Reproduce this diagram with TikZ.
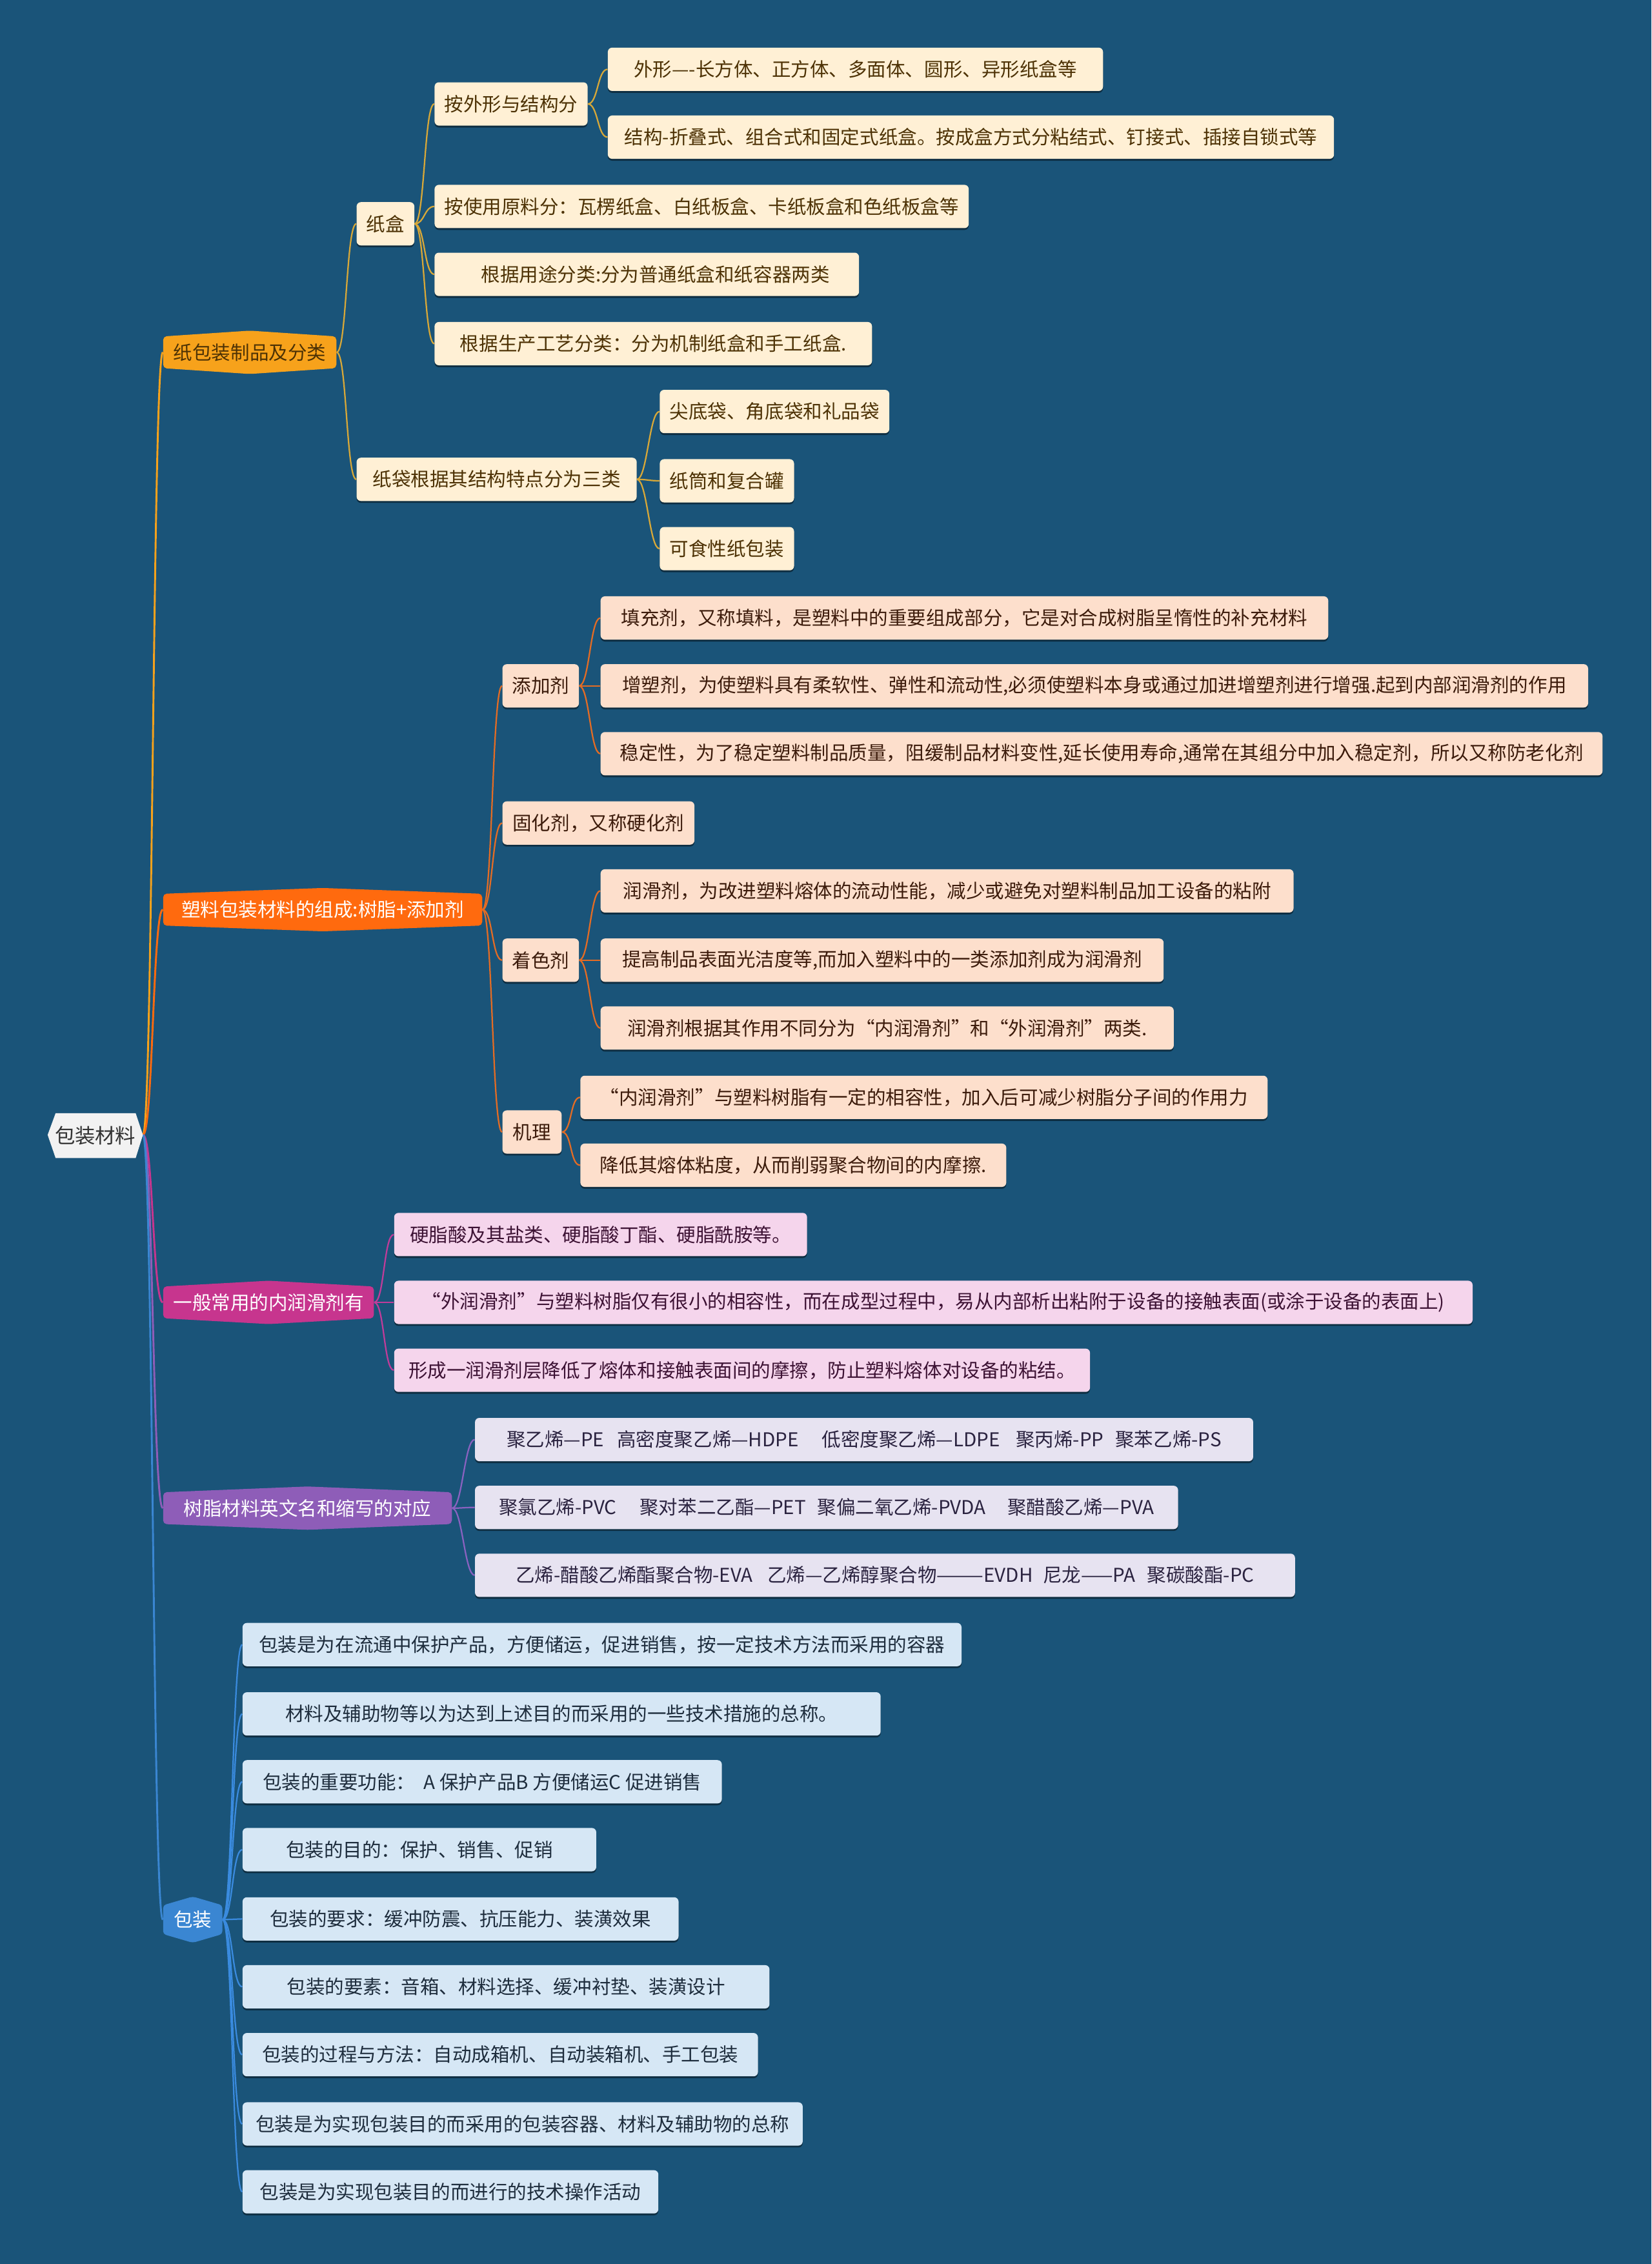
\documentclass[tikz,border=0pt]{standalone}
\usepackage{fontspec}
\setmainfont{Noto Sans CJK SC}
\usetikzlibrary{shadows}
\definecolor{bgc}{RGB}{26,84,121}
\definecolor{rootc}{RGB}{242,242,242}
\definecolor{roott}{RGB}{51,51,51}
\definecolor{L1a}{RGB}{247,162,27}
\definecolor{L1b}{RGB}{255,106,14}
\definecolor{L1c}{RGB}{199,53,142}
\definecolor{L1d}{RGB}{142,93,184}
\definecolor{L1e}{RGB}{58,134,210}
\definecolor{f1}{RGB}{255,240,213}
\definecolor{t1}{RGB}{77,50,5}
\definecolor{f2}{RGB}{253,223,204}
\definecolor{t2}{RGB}{60,27,11}
\definecolor{f3}{RGB}{245,213,236}
\definecolor{t3}{RGB}{61,18,52}
\definecolor{f4}{RGB}{231,227,241}
\definecolor{t4}{RGB}{43,35,64}
\definecolor{f5}{RGB}{214,231,245}
\definecolor{t5}{RGB}{30,45,61}
\definecolor{k1}{RGB}{216,168,56}
\definecolor{k2}{RGB}{228,108,36}
\definecolor{k3}{RGB}{192,60,154}
\definecolor{k4}{RGB}{138,98,192}
\definecolor{k5}{RGB}{58,139,223}
\pgfdeclarelayer{bgl}
\pgfdeclarelayer{edges}
\pgfsetlayers{bgl,edges,main}
\newcommand\bx[6]{\node[#5, minimum width={#3pt-#2pt}] (#1) at ({(#2+#3)/2},#4) {#6};}
\newcommand\lone[7]{%
  \fill[#5, rounded corners=2.5pt] (#2,{#4-11}) -- ({(#2+#3)/2},{#4-15}) -- (#3,{#4-11}) -- (#3,{#4+11}) -- ({(#2+#3)/2},{#4+15}) -- (#2,{#4+11}) -- cycle;
  \node[text=#6, minimum width={#3pt-#2pt}, minimum height=22pt] (#1) at ({(#2+#3)/2},#4) {#7};}
\newcommand\cn[3]{\draw[#1] (#2.east) .. controls +(7,0) and +(-7,0) .. (#3.west);}
\begin{document}
\begin{tikzpicture}[x=1pt,y=-1pt,
  every node/.style={inner sep=0pt, font=\fontsize{13.2}{15}\selectfont},
  box/.style={rectangle, rounded corners=3pt, minimum height=30pt,
    drop shadow={shadow xshift=0pt, shadow yshift=-1.3pt, opacity=0.45, fill=black}},
  b1/.style={box, fill=f1, text=t1},
  b2/.style={box, fill=f2, text=t2},
  b3/.style={box, fill=f3, text=t3},
  b4/.style={box, fill=f4, text=t4},
  b5/.style={box, fill=f5, text=t5},
  c1/.style={draw=k1, line width=1pt},
  c2/.style={draw=k2, line width=1pt},
  c3/.style={draw=k3, line width=1pt},
  c4/.style={draw=k4, line width=1pt},
  c5/.style={draw=k5, line width=1pt}]
\begin{pgfonlayer}{bgl}
\fill[bgc] (0,0) rectangle (1144,1568);
\end{pgfonlayer}
\useasboundingbox (0,0) rectangle (1144,1568);

% root
\fill[rootc] (33,786) -- (38.5,771) -- (94,771) -- (99,786) -- (94,802) -- (38.5,802) -- cycle;
\node[text=roott, font=\fontsize{14}{16}\selectfont] (root) at (66,786.5) {包装材料};
\coordinate (rootR) at (99,786);

% level 1
\lone{la}{113}{233}{244}{L1a}{t1}{纸包装制品及分类}
\lone{lb}{113}{334}{630}{L1b}{white}{塑料包装材料的组成:树脂+添加剂}
\lone{lc}{113}{259}{902}{L1c}{white}{一般常用的内润滑剂有}
\lone{ld}{113}{313}{1044.5}{L1d}{white}{树脂材料英文名和缩写的对应}
\fill[L1e, rounded corners=2pt] (133.5,1313.5) -- (154,1319.5) -- (154,1339.5) -- (133.5,1345.5) -- (113,1339.5) -- (113,1319.5) -- cycle;
\node[text=white, minimum width=41pt, minimum height=20pt] (le) at (133.5,1329.5) {包装};

% branch 1
\bx{zh}{247}{287}{155}{b1}{纸盒}
\bx{zh1}{301}{407}{72}{b1}{按外形与结构分}
\bx{zh11}{421}{764}{48}{b1}{外形—-长方体、正方体、多面体、圆形、异形纸盒等}
\bx{zh12}{421}{924}{95}{b1}{结构-折叠式、组合式和固定式纸盒。按成盒方式分粘结式、钉接式、插接自锁式等}
\bx{zh2}{301}{671}{143}{b1}{按使用原料分：瓦楞纸盒、白纸板盒、卡纸板盒和色纸板盒等}
\bx{zh3}{301}{595}{190}{b1}{\hspace*{12pt}根据用途分类:分为普通纸盒和纸容器两类}
\bx{zh4}{301}{604}{238}{b1}{根据生产工艺分类：分为机制纸盒和手工纸盒.}
\bx{zd}{247}{441}{332}{b1}{纸袋根据其结构特点分为三类}
\bx{zd1}{457}{616}{285}{b1}{尖底袋、角底袋和礼品袋}
\bx{zd2}{457}{550}{333}{b1}{纸筒和复合罐}
\bx{zd3}{457}{550}{380}{b1}{可食性纸包装}

% branch 2
\bx{tj}{348}{401}{475}{b2}{添加剂}
\bx{tj1}{416}{920}{428}{b2}{填充剂，又称填料，是塑料中的重要组成部分，它是对合成树脂呈惰性的补充材料}
\bx{tj2}{416}{1100}{475}{b2}{增塑剂，为使塑料具有柔软性、弹性和流动性,必须使塑料本身或通过加进增塑剂进行增强.起到内部润滑剂的作用}
\bx{tj3}{416}{1110}{522}{b2}{稳定性，为了稳定塑料制品质量，阻缓制品材料变性,延长使用寿命,通常在其组分中加入稳定剂，所以又称防老化剂}
\bx{gh}{348}{481}{570}{b2}{固化剂，又称硬化剂}
\bx{zs}{348}{401}{665}{b2}{着色剂}
\bx{zs1}{416}{896}{617}{b2}{润滑剂，为改进塑料熔体的流动性能，减少或避免对塑料制品加工设备的粘附}
\bx{zs2}{416}{806}{665}{b2}{提高制品表面光洁度等,而加入塑料中的一类添加剂成为润滑剂}
\bx{zs3}{416}{813}{712}{b2}{润滑剂根据其作用不同分为“内润滑剂”和“外润滑剂”两类.}
\bx{jl}{348}{389}{784}{b2}{机理}
\bx{jl1}{402}{878}{760}{b2}{“内润滑剂”与塑料树脂有一定的相容性，加入后可减少树脂分子间的作用力}
\bx{jl2}{402}{697}{807}{b2}{降低其熔体粘度，从而削弱聚合物间的内摩擦.}

% branch 3
\bx{nr1}{273}{559}{855}{b3}{硬脂酸及其盐类、硬脂酸丁酯、硬脂酰胺等。}
\bx{nr2}{273}{1020}{902}{b3}{“外润滑剂”与塑料树脂仅有很小的相容性，而在成型过程中，易从内部析出粘附于设备的接触表面(或涂于设备的表面上)}
\bx{nr3}{273}{755}{949}{b3}{形成一润滑剂层降低了熔体和接触表面间的摩擦，防止塑料熔体对设备的粘结。}

% branch 4
\bx{sz1}{329}{868}{997}{b4}{聚乙烯—PE\hspace*{9pt}高密度聚乙烯—HDPE\hspace*{16pt}低密度聚乙烯—LDPE\hspace*{11pt}聚丙烯-PP\hspace*{8pt}聚苯乙烯-PS}
\bx{sz2}{329}{816}{1044}{b4}{聚氯乙烯-PVC\hspace*{16pt}聚对苯二乙酯—PET\hspace*{8pt}聚偏二氧乙烯-PVDA\hspace*{15pt}聚醋酸乙烯—PVA}
\bx{sz3}{329}{897}{1091}{b4}{乙烯-醋酸乙烯酯聚合物-EVA\hspace*{10pt}乙烯—乙烯醇聚合物———EVDH\hspace*{7pt}尼龙——PA\hspace*{8pt}聚碳酸酯-PC}

% branch 5
\bx{bz1}{168}{666}{1139}{b5}{包装是为在流通中保护产品，方便储运，促进销售，按一定技术方法而采用的容器}
\bx{bz2}{168}{610}{1187}{b5}{材料及辅助物等以为达到上述目的而采用的一些技术措施的总称。}
\bx{bz3}{168}{500}{1234}{b5}{包装的重要功能：\hspace*{6pt}A 保护产品B 方便储运C 促进销售}
\bx{bz4}{168}{413}{1281}{b5}{包装的目的：保护、销售、促销}
\bx{bz5}{168}{470}{1329}{b5}{包装的要求：缓冲防震、抗压能力、装潢效果}
\bx{bz6}{168}{533}{1376}{b5}{包装的要素：音箱、材料选择、缓冲衬垫、装潢设计}
\bx{bz7}{168}{525}{1423}{b5}{包装的过程与方法：自动成箱机、自动装箱机、手工包装}
\bx{bz8}{168}{556}{1471}{b5}{包装是为实现包装目的而采用的包装容器、材料及辅助物的总称}
\bx{bz9}{168}{456}{1518}{b5}{包装是为实现包装目的而进行的技术操作活动}

\begin{pgfonlayer}{edges}
% root connectors
\draw[draw=L1a, line width=1.3pt] (rootR) .. controls +(7,0) and +(-7,0) .. (la.west);
\draw[draw=L1b, line width=1.3pt] (rootR) .. controls +(7,0) and +(-7,0) .. (lb.west);
\draw[draw=L1c, line width=1.3pt] (rootR) .. controls +(7,0) and +(-7,0) .. (lc.west);
\draw[draw=L1d, line width=1.3pt] (rootR) .. controls +(7,0) and +(-7,0) .. (ld.west);
\draw[draw=L1e, line width=1.3pt] (rootR) .. controls +(7,0) and +(-7,0) .. (le.west);
% branch 1
\cn{c1}{la}{zh}
\cn{c1}{la}{zd}
\cn{c1}{zh}{zh1}
\cn{c1}{zh}{zh2}
\cn{c1}{zh}{zh3}
\cn{c1}{zh}{zh4}
\cn{c1}{zh1}{zh11}
\cn{c1}{zh1}{zh12}
\cn{c1}{zd}{zd1}
\cn{c1}{zd}{zd2}
\cn{c1}{zd}{zd3}
% branch 2
\cn{c2}{lb}{tj}
\cn{c2}{lb}{gh}
\cn{c2}{lb}{zs}
\cn{c2}{lb}{jl}
\cn{c2}{tj}{tj1}
\cn{c2}{tj}{tj2}
\cn{c2}{tj}{tj3}
\cn{c2}{zs}{zs1}
\cn{c2}{zs}{zs2}
\cn{c2}{zs}{zs3}
\cn{c2}{jl}{jl1}
\cn{c2}{jl}{jl2}
% branch 3
\cn{c3}{lc}{nr1}
\cn{c3}{lc}{nr2}
\cn{c3}{lc}{nr3}
% branch 4
\cn{c4}{ld}{sz1}
\cn{c4}{ld}{sz2}
\cn{c4}{ld}{sz3}
% branch 5
\cn{c5}{le}{bz1}
\cn{c5}{le}{bz2}
\cn{c5}{le}{bz3}
\cn{c5}{le}{bz4}
\cn{c5}{le}{bz5}
\cn{c5}{le}{bz6}
\cn{c5}{le}{bz7}
\cn{c5}{le}{bz8}
\cn{c5}{le}{bz9}
\end{pgfonlayer}
\end{tikzpicture}
\end{document}
